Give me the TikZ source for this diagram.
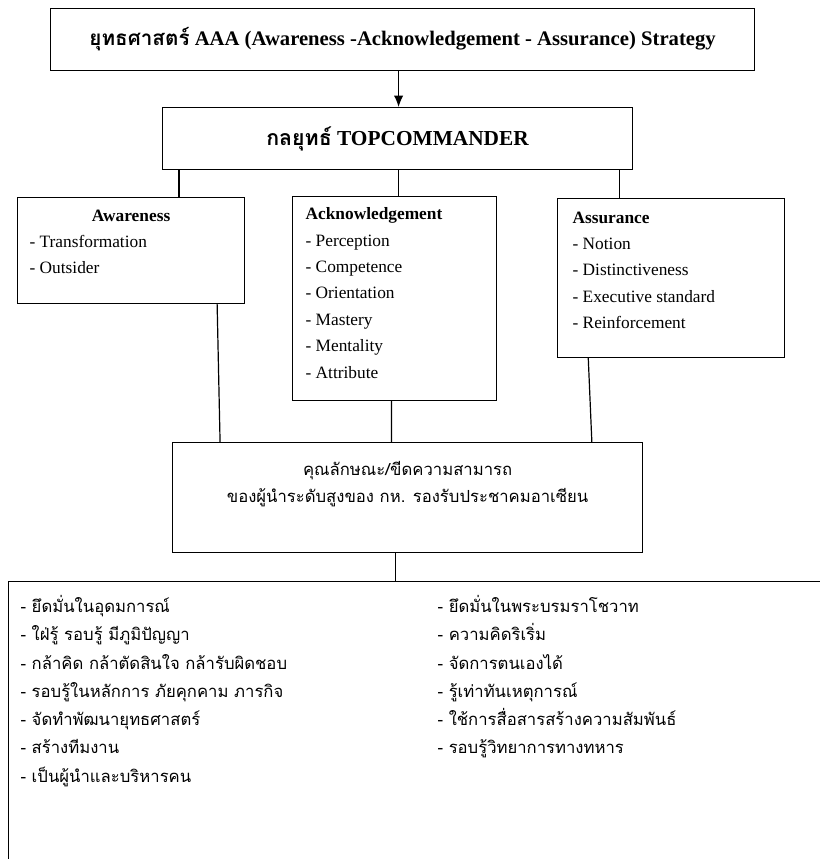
\documentclass[tikz,border=0pt]{standalone}
\usepackage{fontspec}
\setmainfont{Liberation Serif}
\newfontfamily\thaifont[Script=Thai]{Loma}
\usetikzlibrary{arrows.meta,calc}

\tikzset{
  panel/.style={draw, line width=0.9pt, inner sep=0pt, anchor=north west},
  link/.style={line width=0.9pt},
}
\newcommand{\panelbox}[3]{\parbox[c][#2][t]{#1}{\raggedright #3}}

\begin{document}
\begin{tikzpicture}[x=0.75pt, y=-0.75pt]
	\useasboundingbox (0,0) rectangle (819,859);
	
	\node[panel, minimum width=528pt, minimum height=46.5pt] (title) at (50,8)
		{\fontsize{15.5}{18}\selectfont{\thaifont\bfseries ยุทธศาสตร์} \textbf{AAA (Awareness -Acknowledgement - Assurance) Strategy}};
	\node[panel, minimum width=352.5pt, minimum height=46.5pt] (cmd) at (162,107)
		{\fontsize{16}{18}\selectfont{\thaifont\bfseries กลยุทธ์} \textbf{TOPCOMMANDER}};
	
	\node[panel] (aware) at (17,197) {\panelbox{170.25pt}{79.5pt}{\fontsize{13}{19.6}\selectfont
		\rule{0pt}{18pt}\makebox[\linewidth]{\textbf{Awareness}}\\
		\hspace*{9pt}- Transformation\\
		\hspace*{9pt}- Outsider}};
	\node[panel] (ack) at (292,196) {\panelbox{153pt}{153pt}{\fontsize{13}{19.8}\selectfont
		\rule{0pt}{17.25pt}\hspace*{9.75pt}\textbf{Acknowledgement}\\
		\hspace*{9.75pt}- Perception\\
		\hspace*{9.75pt}- Competence\\
		\hspace*{9.75pt}- Orientation\\
		\hspace*{9.75pt}- Mastery\\
		\hspace*{9.75pt}- Mentality\\
		\hspace*{9.75pt}- Attribute}};
	\node[panel] (assur) at (557,198) {\panelbox{170.25pt}{119.25pt}{\fontsize{13}{19.6}\selectfont
		\rule{0pt}{18.75pt}\hspace*{11.25pt}\textbf{Assurance}\\
		\hspace*{11.25pt}- Notion\\
		\hspace*{11.25pt}- Distinctiveness\\
		\hspace*{11.25pt}- Executive standard\\
		\hspace*{11.25pt}- Reinforcement}};
	
	\node[panel] (quality) at (172,442) {\panelbox{352.5pt}{82.5pt}{\centering\thaifont\fontsize{12.5}{20.25}\selectfont
		\rule{0pt}{24.75pt}คุณลักษณะ/ขีดความสามารถ\\
		ของผู้นำระดับสูงของ กห. รองรับประชาคมอาเซียน}};
	
	\node[panel] (list) at (8,581) {\panelbox{624pt}{225pt}{\thaifont\fontsize{12.5}{21.2}\selectfont
		\rule{0pt}{23.25pt}\hspace*{9pt}\parbox[t]{312.75pt}{\raggedright
		- ยึดมั่นในอุดมการณ์\\
		- ใฝ่รู้ รอบรู้ มีภูมิปัญญา\\
		- กล้าคิด กล้าตัดสินใจ กล้ารับผิดชอบ\\
		- รอบรู้ในหลักการ ภัยคุกคาม ภารกิจ\\
		- จัดทำพัฒนายุทธศาสตร์\\
		- สร้างทีมงาน\\
		- เป็นผู้นำและบริหารคน}\parbox[t]{280pt}{\raggedright
		- ยึดมั่นในพระบรมราโชวาท\\
		- ความคิดริเริ่ม\\
		- จัดการตนเองได้\\
		- รู้เท่าทันเหตุการณ์\\
		- ใช้การสื่อสารสร้างความสัมพันธ์\\
		- รอบรู้วิทยาการทางทหาร}}};
	
	\draw[link, -{Latex[length=8.5pt,width=7pt]}] ($(title.south)+(-4,0)$) coordinate (t0) -- (t0 |- cmd.north);
	
	\draw[link] ($(cmd.south west)+(17,0)$) coordinate (t1) -- (t1 |- aware.north);
	\draw[link] ($(cmd.south)+(1,0)$) coordinate (t2) -- (t2 |- ack.north);
	\draw[link] ($(cmd.south east)+(-14,0)$) coordinate (t3) -- (t3 |- assur.north);
	
	\draw[link] ($(aware.south west)!0.877!(aware.south east)$) -- ($(quality.north west)!0.102!(quality.north east)$);
	\draw[link] ($(ack.south west)!0.485!(ack.south east)$) -- ($(quality.north west)!0.466!(quality.north east)$);
	\draw[link] ($(assur.south west)!0.137!(assur.south east)$) -- ($(quality.north west)!0.891!(quality.north east)$);
	
	\draw[link] ($(quality.south west)!0.474!(quality.south east)$) coordinate (q1) -- (q1 |- list.north);
\end{tikzpicture}
\end{document}
